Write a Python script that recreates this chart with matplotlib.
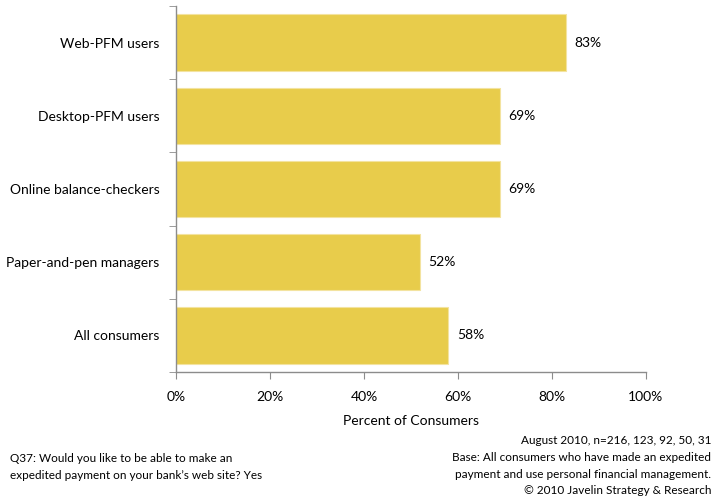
import matplotlib.pyplot as plt
from matplotlib.ticker import PercentFormatter

plt.rcParams['font.family'] = ['Lato', 'DejaVu Sans']

# Share of each group that wants expedited payment on the bank site
groups = ['Web-PFM users', 'Desktop-PFM users', 'Online balance-checkers',
          'Paper-and-pen managers', 'All consumers']
pct = [83, 69, 69, 52, 58]
ticks = [0, 20, 40, 60, 80, 100]

bar_color = '#E8CC4B'
axis_gray = '#8C8C8C'

fig = plt.figure(figsize=(7.14, 4.97), dpi=100)
ax = fig.add_axes([0.2465, 0.2515, 0.658, 0.7365])

ypos = list(range(len(groups)))
bars = ax.barh(ypos, pct, height=0.77, color=bar_color,
               edgecolor='#F3E3A0', linewidth=0.8)

for b, v in zip(bars, pct):
    ax.annotate(f'{v}%', xy=(b.get_width(), b.get_y() + b.get_height() / 2),
                xytext=(6, 0), textcoords='offset points',
                va='center', ha='left', fontsize=10)

ax.set_xlim(0, 100)
ax.set_ylim(len(groups) - 0.5, -0.5)
ax.set_xticks(ticks)
ax.xaxis.set_major_formatter(PercentFormatter(decimals=0))
ax.set_yticks(ypos)
ax.set_yticklabels(groups)
# tick marks sit between categories, labels stay centred
ax.set_yticks([i - 0.5 for i in range(len(groups) + 1)], minor=True)
ax.tick_params(axis='y', which='major', length=0, pad=12, labelsize=10)
ax.tick_params(axis='y', which='minor', length=5, color=axis_gray, direction='out')
ax.tick_params(axis='x', length=5, color=axis_gray, direction='out', pad=9,
               labelsize=10)

for side in ['top', 'right']:
    ax.spines[side].set_visible(False)
for side in ['left', 'bottom']:
    ax.spines[side].set_color(axis_gray)
    ax.spines[side].set_linewidth(1)

ax.set_xlabel('Percent of Consumers', fontsize=10, labelpad=8)

fig.text(0.014, 0.061, 'Q37: Would you like to be able to make an\n'
         'expedited payment on your bank\u2019s web site? Yes',
         fontsize=8.5, ha='left', va='center', linespacing=1.65)
fig.text(0.996, 0.063, 'August 2010, n=216, 123, 92, 50, 31\n'
         'Base: All consumers who have made an expedited\n'
         'payment and use personal financial management.\n'
         '\u00a9 2010 Javelin Strategy & Research',
         fontsize=8.5, ha='right', va='center', linespacing=1.65)

fig.savefig('out.png', dpi=100)
